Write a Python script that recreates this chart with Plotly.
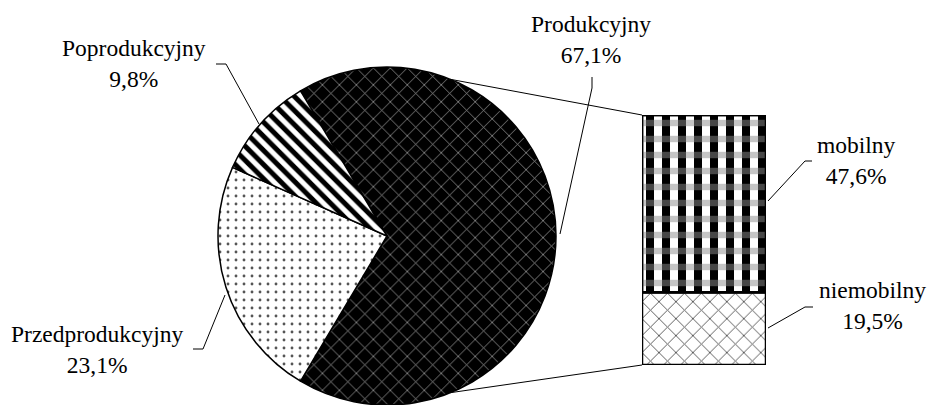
import math
import plotly.graph_objects as go

W, H = 929, 405

# ---- data ----
pie_labels = ["Produkcyjny", "Przedprodukcyjny", "Poprodukcyjny"]
pie_values = [67.1, 23.1, 9.8]
bar_labels = ["niemobilny", "mobilny"]
bar_values = [19.5, 47.6]

FONT = "Liberation Serif"


def fmt(v):
    return f"{v:.1f}".replace(".", ",") + "%"


def px(x):
    return x / W


def py(y):
    return 1 - y / H


# pie geometry (pixels)
cx, cy, r = 387, 236, 169
pie_dom_x = [px(cx - r), px(cx + r)]
pie_dom_y = [max(0, py(cy + r)), py(cy - r)]

total = sum(pie_values)
rotation = 90 - 360 * (pie_values[0] / total) / 2

fig = go.Figure()

fig.add_trace(go.Pie(
    labels=pie_labels,
    values=pie_values,
    sort=False,
    direction="clockwise",
    rotation=rotation,
    textinfo="none",
    hoverinfo="label+percent",
    domain=dict(x=pie_dom_x, y=pie_dom_y),
    marker=dict(
        colors=["black", "white", "white"],
        line=dict(color="black", width=1.5),
        pattern=dict(
            shape=["x", ".", "\\"],
            fgcolor=["#a0a0a0", "#555555", "black"],
            bgcolor=["black", "white", "white"],
            size=[12, 8, 10],
            solidity=[0.12, 0.1, 0.5],
            fillmode="replace",
        ),
    ),
    showlegend=False,
))

# bar geometry (pixels)
bx0, bx1, by_top, by_bot = 642, 766, 115, 365
bar_total = sum(bar_values)

# niemobilny (bottom)
fig.add_trace(go.Bar(
    x=[0], y=[bar_values[0]], base=[0], width=1,
    marker=dict(color="white", line=dict(color="black", width=2.5),
                pattern=dict(shape="x", fgcolor="#555555", bgcolor="white",
                             size=12, solidity=0.15, fillmode="replace")),
    xaxis="x", yaxis="y", showlegend=False, name=bar_labels[0],
))
# mobilny (top) - black squares on white
fig.add_trace(go.Bar(
    x=[0], y=[bar_values[1]], base=[bar_values[0]], width=1,
    marker=dict(color="white", line=dict(color="black", width=2.5),
                pattern=dict(shape="|", fgcolor="black", bgcolor="white",
                             size=16, solidity=0.5, fillmode="replace")),
    xaxis="x", yaxis="y", showlegend=False, name=bar_labels[1],
))
# mobilny grey bands overlay
fig.add_trace(go.Bar(
    x=[0], y=[bar_values[1]], base=[bar_values[0]], width=1,
    marker=dict(color="rgba(0,0,0,0)", line=dict(color="black", width=2.5),
                pattern=dict(shape="-", fgcolor="#8c8c8c", bgcolor="rgba(0,0,0,0)",
                             size=16, solidity=0.4, fillmode="overlay")),
    xaxis="x", yaxis="y", showlegend=False, hoverinfo="skip",
))

fig.update_layout(
    width=W, height=H,
    margin=dict(l=0, r=0, t=0, b=0),
    paper_bgcolor="white", plot_bgcolor="rgba(0,0,0,0)",
    barmode="overlay",
    xaxis=dict(domain=[px(bx0), px(bx1)], range=[-0.5, 0.5], visible=False, fixedrange=True),
    yaxis=dict(domain=[py(by_bot), py(by_top)], range=[0, bar_total], visible=False, fixedrange=True),
    font=dict(family=FONT, color="black"),
)

shapes = []
# connector lines pie -> bar
ang = math.radians(68)
p_top = (cx + r * math.cos(ang), cy - r * math.sin(ang))
p_bot = (cx + r * math.cos(ang), cy + r * math.sin(ang))
for (x0, y0), (x1, y1) in [(p_top, (bx0, by_top)), (p_bot, (bx0, by_bot))]:
    shapes.append(dict(type="line", xref="paper", yref="paper",
                       x0=px(x0), y0=py(y0), x1=px(x1), y1=py(y1),
                       line=dict(color="black", width=1)))

# leader lines for labels
leaders = [
    [(216, 64), (226, 64), (259, 124)],      # Poprodukcyjny
    [(592, 77), (592, 88), (560, 234)],      # Produkcyjny
    [(193, 349), (203, 349), (225, 295)],    # Przedprodukcyjny
    [(812, 161), (805, 161), (768, 201)],    # mobilny
    [(813, 307), (805, 307), (768, 328)],    # niemobilny
]
for pts in leaders:
    path = "M " + " L ".join(f"{px(a)},{py(b)}" for a, b in pts)
    shapes.append(dict(type="path", xref="paper", yref="paper", path=path,
                       line=dict(color="black", width=1)))
fig.update_layout(shapes=shapes)

# labels
label_pos = {
    "Produkcyjny": (591, 39.5),
    "Poprodukcyjny": (134, 64),
    "Przedprodukcyjny": (97, 349),
    "mobilny": (856, 160),
    "niemobilny": (872, 305),
}
values = dict(zip(pie_labels, pie_values))
values.update(dict(zip(bar_labels, bar_values)))
for name, (x, y) in label_pos.items():
    fig.add_annotation(x=px(x), y=py(y), xref="paper", yref="paper",
                       text=f"{name}<br>{fmt(values[name])}", showarrow=False,
                       xanchor="center", yanchor="middle", align="center",
                       font=dict(family=FONT, size=23.5, color="black"))

fig.write_html(
    "out.html",
    config={"displayModeBar": False},
    post_script="document.body.style.margin='0';document.body.style.overflow='hidden';",
)
